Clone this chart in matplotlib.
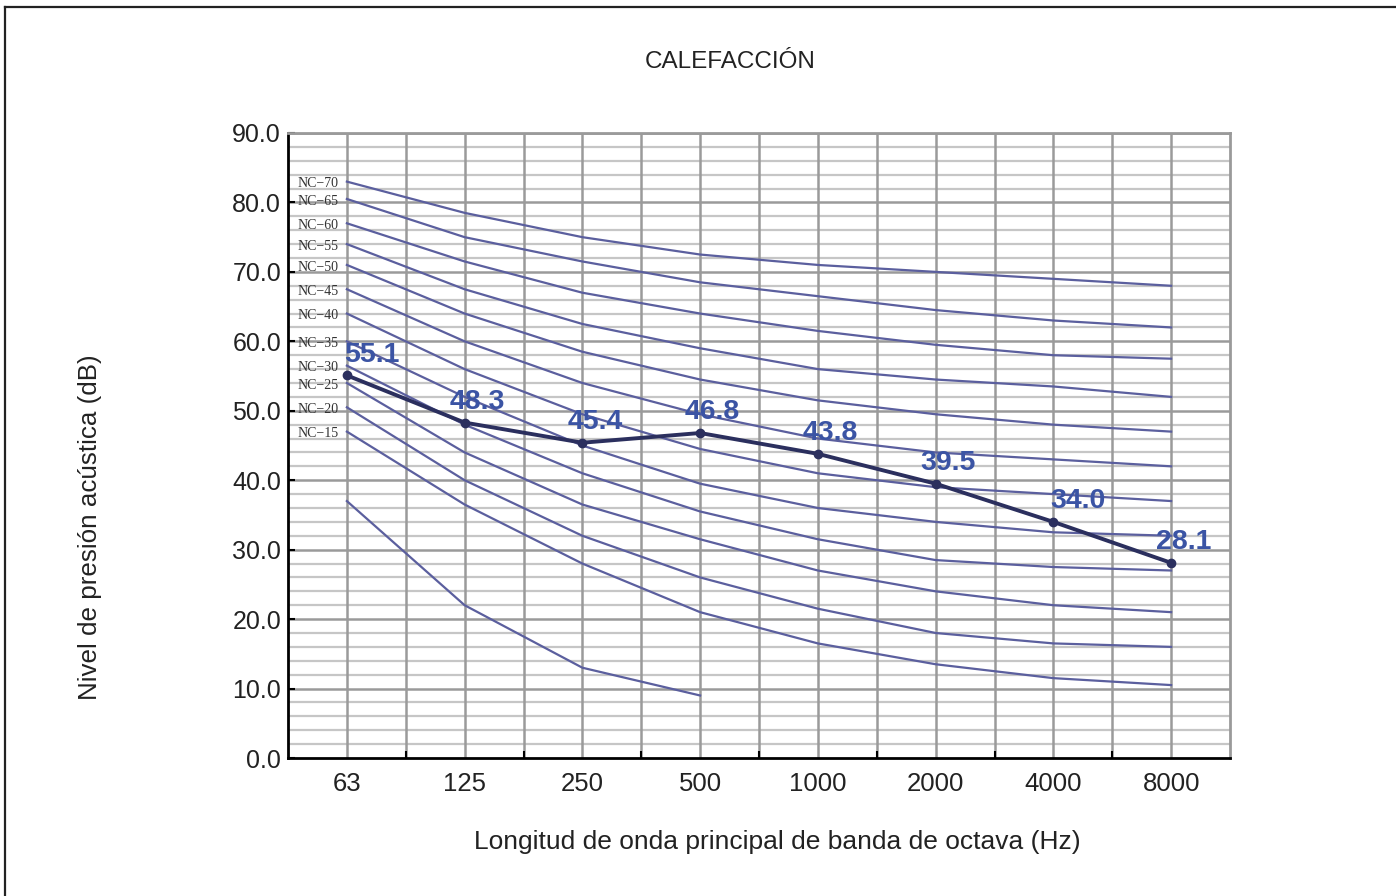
import matplotlib
matplotlib.use('Agg')
import matplotlib.pyplot as plt
from matplotlib.lines import Line2D
from matplotlib.ticker import MultipleLocator, FixedLocator

plt.rcParams['font.family'] = ['Liberation Sans', 'DejaVu Sans']

# ---- data -------------------------------------------------------------------
bands = ["63", "125", "250", "500", "1000", "2000", "4000", "8000"]
measured = [55.1, 48.3, 45.4, 46.8, 43.8, 39.5, 34.0, 28.1]

nc_names = ["NC\u221215", "NC\u221220", "NC\u221225", "NC\u221230", "NC\u221235", "NC\u221240",
            "NC\u221245", "NC\u221250", "NC\u221255", "NC\u221260", "NC\u221265", "NC\u221270"]
nc_curves = [
    [47.0, 36.5, 28.0, 21.0, 16.5, 13.5, 11.5, 10.5],
    [50.5, 40.0, 32.0, 26.0, 21.5, 18.0, 16.5, 16.0],
    [54.0, 44.0, 36.5, 31.5, 27.0, 24.0, 22.0, 21.0],
    [56.5, 48.0, 41.0, 35.5, 31.5, 28.5, 27.5, 27.0],
    [60.0, 52.0, 45.0, 39.5, 36.0, 34.0, 32.5, 32.0],
    [64.0, 56.0, 49.5, 44.5, 41.0, 39.0, 38.0, 37.0],
    [67.5, 60.0, 54.0, 49.5, 46.0, 44.0, 43.0, 42.0],
    [71.0, 64.0, 58.5, 54.5, 51.5, 49.5, 48.0, 47.0],
    [74.0, 67.5, 62.5, 59.0, 56.0, 54.5, 53.5, 52.0],
    [77.0, 71.5, 67.0, 64.0, 61.5, 59.5, 58.0, 57.5],
    [80.5, 75.0, 71.5, 68.5, 66.5, 64.5, 63.0, 62.0],
    [83.0, 78.5, 75.0, 72.5, 71.0, 70.0, 69.0, 68.0],
]
# short unlabeled curve at the bottom
extra_curve = [37.0, 22.0, 13.0, 9.0]

# ---- style ------------------------------------------------------------------
NC_COLOR = "#5b5f9e"
DATA_COLOR = "#2b2f5e"
LABEL_COLOR = "#3b54a4"
GRID_MAJ = "#9a9a9a"
GRID_MIN = "#c6c6c6"
TXT = "#222222"
label_dx = [18, 9, 9, 9, 9, 9, 18, 9]   # offset points for value labels

fig = plt.figure(figsize=(13.96, 8.96), dpi=100, facecolor="white")
ax = fig.add_axes([288 / 1396, 1 - 758 / 896, (1230 - 288) / 1396, (758 - 133) / 896])

x = list(range(len(bands)))
ax.set_xlim(-0.5, len(bands) - 0.5)
ax.set_ylim(0, 90)

# grid: minor every 2 dB, major every 10 dB, verticals every half band
for v in range(0, 91, 2):
    if v % 10:
        ax.axhline(v, color=GRID_MIN, lw=1.6, zorder=0)
for v in range(10, 91, 10):
    ax.axhline(v, color=GRID_MAJ, lw=1.8, zorder=0.5)
for k in range(1, 2 * len(bands)):
    ax.axvline(-0.5 + k * 0.5, color=GRID_MAJ, lw=1.8, zorder=0.5)

for name, curve in zip(nc_names, nc_curves):
    ax.plot(x, curve, color=NC_COLOR, lw=1.6, zorder=2)
    ax.text(-0.42, curve[0] - 0.3, name, family="Liberation Serif", fontsize=10,
            color="#333333", ha="left", va="center", zorder=3)
ax.plot(x[:len(extra_curve)], extra_curve, color=NC_COLOR, lw=1.6, zorder=2)

ax.plot(x, measured, color=DATA_COLOR, lw=2.8, marker="o", markersize=6,
        zorder=4)
for xi, v, dx in zip(x, measured, label_dx):
    ax.annotate(f"{v:.1f}", (xi, v), xytext=(dx, 15), textcoords="offset points",
                ha="center", va="center", fontsize=20.5, fontweight="bold",
                color=LABEL_COLOR, zorder=5)

# axes
ax.yaxis.set_major_locator(MultipleLocator(10))
ax.yaxis.set_major_formatter(matplotlib.ticker.FormatStrFormatter("%.1f"))
ax.tick_params(axis="y", direction="in", length=5, width=1.5, labelsize=18,
               labelcolor=TXT, pad=5)
ax.xaxis.set_major_locator(FixedLocator(x))
ax.set_xticklabels(bands)
ax.xaxis.set_minor_locator(FixedLocator([i + 0.5 for i in x[:-1]]))
ax.tick_params(axis="x", which="major", length=0, labelsize=18.5,
               labelcolor=TXT, pad=10)
ax.tick_params(axis="x", which="minor", direction="in", length=5, width=1.5)
for s in ("left", "bottom"):
    ax.spines[s].set_color("black")
    ax.spines[s].set_linewidth(2)
for s in ("top", "right"):
    ax.spines[s].set_color(GRID_MAJ)
    ax.spines[s].set_linewidth(2)

fig.text(730 / 1396, 1 - 62 / 896, "CALEFACCIÓN", fontsize=17.5, color=TXT,
         ha="center", va="center")
fig.text(777 / 1396, 1 - 842 / 896,
         "Longitud de onda principal de banda de octava (Hz)", fontsize=19,
         color=TXT, ha="center", va="center")
fig.text(90 / 1396, 1 - 527 / 896, "Nivel de presión acústica (dB)",
         fontsize=18.7, color=TXT, ha="center", va="center", rotation=90)

# outer frame (only left and top edges fall inside the image)
fig.add_artist(Line2D([5 / 1396, 5 / 1396], [0, 1 - 7 / 896], color="#222222",
                      lw=1.6, transform=fig.transFigure))
fig.add_artist(Line2D([5 / 1396, 1], [1 - 7 / 896, 1 - 7 / 896], color="#222222",
                      lw=1.6, transform=fig.transFigure))

fig.savefig("out.png", dpi=100, facecolor="white")
